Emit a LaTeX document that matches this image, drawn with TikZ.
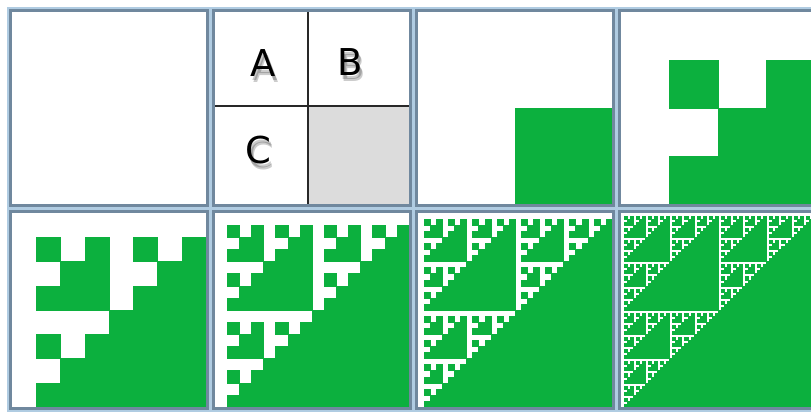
\documentclass[tikz,border=0pt]{standalone}
\usepackage{fontspec}
\newfontfamily\lblfont{DejaVu Sans}
\definecolor{grn}{RGB}{12,176,62}
\definecolor{framedark}{RGB}{112,136,158}
\definecolor{framelight}{RGB}{176,204,226}
\definecolor{cellgray}{RGB}{220,220,220}
\definecolor{divline}{RGB}{40,40,40}

% recursive fill of the D quadrants: #1 x, #2 y, #3 w, #4 h, #5 level
\newcommand\sierpfill[5]{%
  \ifnum#5>0
   \begingroup
    \pgfmathsetmacro\SPx{#1+#3/2}%
    \pgfmathsetmacro\SPy{#2+#4/2}%
    \pgfmathsetmacro\SPw{#3/2}%
    \pgfmathsetmacro\SPh{#4/2}%
    \pgfmathsetmacro\SPex{#1+#3}%
    \pgfmathsetmacro\SPey{#2+#4}%
    \pgfmathtruncatemacro\SPn{#5-1}%
    \fill[greencell] (\SPx,\SPy) rectangle (\SPex,\SPey);
    \edef\SPnext{%
      \noexpand\sierpfill{#1}{#2}{\SPw}{\SPh}{\SPn}%
      \noexpand\sierpfill{\SPx}{#2}{\SPw}{\SPh}{\SPn}%
      \noexpand\sierpfill{#1}{\SPy}{\SPw}{\SPh}{\SPn}}%
    \SPnext
   \endgroup
  \fi}

\tikzset{
  greencell/.style={fill=grn, draw=grn, line width=0.35pt},
  panelframe/.style={draw=framedark, line width=2.5pt},
  lbl/.style={font=\lblfont\fontsize{37}{37}\selectfont, inner sep=0pt, text=black},
  shd/.style={lbl, text=black, opacity=0.2},
  divider/.style={draw=divline, line width=1.6pt}
}

\begin{document}
\begin{tikzpicture}[x=1pt, y=-1pt]
\useasboundingbox (0,0) rectangle (811,412);
\clip (0,0) rectangle (811,412);
\fill[white] (0,0) rectangle (811,412);
\fill[framelight] (7,7) rectangle (820,412);

% panels: interiors
\foreach \px/\py/\pw/\ph in {12/12/194/192, 215/12/194/192, 418/12/194/192, 621/12/194/192,
                             12/213/194/194, 215/213/194/194, 418/213/194/194, 621/213/194/194}{
  \fill[white] (\px,\py) rectangle ++(\pw,\ph);
}

% panel 2: A B C diagram
\fill[cellgray] (308,106) rectangle (409,204);
\draw[divider] (308,12) -- (308,204);
\draw[divider] (215,106) -- (409,106);
\foreach \dx/\dy/\k in {2/4/1, 3/6/2}{
  \node[shd] (shA\k) at (263+\dx,63+\dy) {A};
  \node[shd] (shB\k) at (350+\dx,62+\dy) {B};
  \node[shd] (shC\k) at (258+\dx,150+\dy) {C};
}
\node[lbl] (lblA) at (263,63) {A};
\node[lbl] (lblB) at (350,62) {B};
\node[lbl] (lblC) at (258,150) {C};

% fractal panels
\sierpfill{418}{12}{194}{192}{1}
\sierpfill{621}{12}{194}{192}{2}
\sierpfill{12}{213}{194}{194}{3}
\sierpfill{215}{213}{194}{194}{4}
\sierpfill{418}{213}{194}{194}{5}
\sierpfill{621}{213}{194}{194}{6}

% frames
\foreach \px/\py/\pw/\ph in {12/12/194/192, 215/12/194/192, 418/12/194/192, 621/12/194/192,
                             12/213/194/194, 215/213/194/194, 418/213/194/194, 621/213/194/194}{
  \draw[panelframe] (\px-1.5,\py-1.5) rectangle ++(\pw+3,\ph+3);
}
\end{tikzpicture}
\end{document}
